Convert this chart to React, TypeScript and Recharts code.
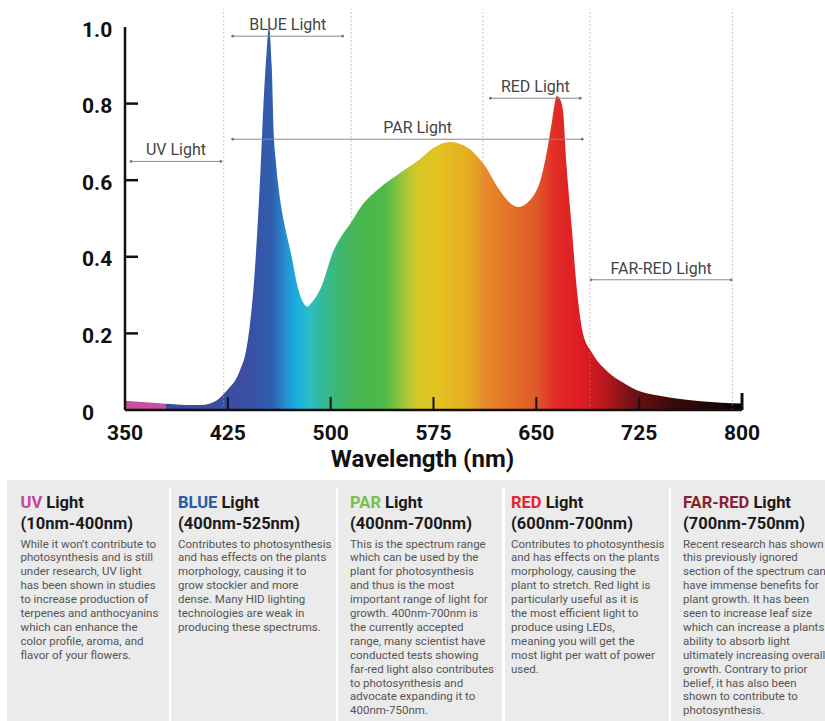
import React from 'react';
import { AreaChart, Area, XAxis, YAxis, ReferenceLine, ReferenceDot } from 'recharts';

// ---- spectrum data (wavelength nm -> relative intensity) ----
const wavelengths = [
  350, 365, 380, 395, 405, 412, 418, 422, 426, 430, 434, 438, 441, 444, 447, 449, 451, 453, 455,
  457, 458.5, 460, 462, 466, 471, 476, 480, 483, 486, 493, 502, 509, 515, 522, 536, 551, 565, 575,
  587, 600, 611, 624, 631, 637, 643, 648, 653, 658, 661.7, 665, 667.5, 669.5, 672, 675.5, 680, 684,
  690.5, 702, 714, 726, 740, 752, 770, 785, 800,
];
const intensity = [
  0.024, 0.02, 0.016, 0.013, 0.013, 0.017, 0.028, 0.042, 0.058, 0.075, 0.105, 0.15, 0.22, 0.33, 0.5,
  0.64, 0.8, 0.92, 1.0, 0.9, 0.72, 0.65, 0.58, 0.49, 0.41, 0.32, 0.28, 0.27, 0.28, 0.32, 0.415, 0.46,
  0.49, 0.53, 0.58, 0.62, 0.655, 0.685, 0.7, 0.685, 0.645, 0.57, 0.54, 0.53, 0.54, 0.56, 0.6, 0.68,
  0.76, 0.82, 0.81, 0.78, 0.64, 0.49, 0.3, 0.2, 0.15, 0.1, 0.07, 0.048, 0.037, 0.03, 0.023, 0.019,
  0.017,
];

const xTicks = [350, 425, 500, 575, 650, 725, 800];
const yTicks = [0, 0.2, 0.4, 0.6, 0.8, 1.0];

// dotted band dividers (nm)
const dividerWavelengths = [422, 515, 611, 689, 793];

// band annotations
const bandNames = ['UV Light', 'BLUE Light', 'PAR Light', 'RED Light', 'FAR-RED Light'];
const bandFrom = [354.4, 428.6, 428.6, 616.5, 690];
const bandTo = [419.9, 508.7, 683.5, 682, 792];
const bandLevel = [0.649, 0.976, 0.707, 0.814, 0.34];
const bandLabelAt = [387.2, 468.7, 563.4, 649.3, 741];

// spectrum colour map (nm, colour)
const stopWavelengths = [350, 379.9, 380, 440, 458, 468, 476, 484, 494, 505, 520, 540, 553, 563, 578, 600, 612, 630, 650, 664, 682, 700, 720, 750, 785, 796, 800];
const stopColors = ['#c6529f', '#c6529f', '#3d4b9e', '#3b4ea2', '#2f60b0', '#2394d3', '#19b0dc', '#2dbcc6', '#33b99c', '#3bb873', '#47b74f', '#50b848', '#9dc63c', '#d6c628', '#e4c321', '#e6ae21', '#e88c28', '#e37228', '#e0592a', '#e02c26', '#e01c24', '#b9181f', '#6f1214', '#3a0a0a', '#1a0404', '#000000', '#000000'];

const panelTitles = ['UV', 'BLUE', 'PAR', 'RED', 'FAR-RED'];
const panelTitleColors = ['#c4449b', '#2c5aa6', '#7cbf46', '#e0262c', '#8c1f31'];
const panelRanges = ['(10nm-400nm)', '(400nm-525nm)', '(400nm-700nm)', '(600nm-700nm)', '(700nm-750nm)'];
const panelLeft = [20.5, 178, 350, 511, 683];
const panelBodies = [
  [
    'While it won\u2019t contribute to',
    'photosynthesis and is still',
    'under research, UV light',
    'has been shown in studies',
    'to increase production of',
    'terpenes and anthocyanins',
    'which can enhance the',
    'color profile, aroma, and',
    'flavor of your flowers.',
  ],
  [
    'Contributes to photosynthesis',
    'and has effects on the plants',
    'morphology, causing it to',
    'grow stockier and more',
    'dense. Many HID lighting',
    'technologies are weak in',
    'producing these spectrums.',
  ],
  [
    'This is the spectrum range',
    'which can be used by the',
    'plant for photosynthesis',
    'and thus is the most',
    'important range of light for',
    'growth. 400nm-700nm is',
    'the currently accepted',
    'range, many scientist have',
    'conducted tests showing',
    'far-red light also contributes',
    'to photosynthesis and',
    'advocate expanding it to',
    '400nm-750nm.',
  ],
  [
    'Contributes to photosynthesis',
    'and has effects on the plants',
    'morphology, causing the',
    'plant to stretch. Red light is',
    'particularly useful as it is',
    'the most efficient light to',
    'produce using LEDs,',
    'meaning you will get the',
    'most light per watt of power',
    'used.',
  ],
  [
    'Recent research has shown',
    'this previously ignored',
    'section of the spectrum can',
    'have immense benefits for',
    'plant growth. It has been',
    'seen to increase leaf size',
    'which can increase a plants',
    'ability to absorb light',
    'ultimately increasing overall',
    'growth. Contrary to prior',
    'belief, it has also been',
    'shown to contribute to',
    'photosynthesis.',
  ],
];
const separatorX = [170, 337, 503.5, 670];

const data = wavelengths.map((wl, i) => ({ wl, v: intensity[i] }));

const FONT = 'Roboto, "Noto Sans", Arial, sans-serif';

const XTick = (props: any) => {
  const { x, y, payload } = props;
  const v = payload.value;
  return (
    <g>
      {v !== 350 && (
        <line x1={x} x2={x} y1={y} y2={y - (v === 800 ? 17 : 13)} stroke="#111" strokeWidth={v === 800 ? 3 : 2} />
      )}
      <text x={x} y={y + 30} textAnchor="middle" fontFamily={FONT} fontWeight={700} fontSize={21} fill="#111">
        {v}
      </text>
    </g>
  );
};

const YTick = (props: any) => {
  const { x, y, payload } = props;
  const v = payload.value;
  return (
    <g>
      {v > 0 && v < 1 && <line x1={x} x2={x + 13} y1={y} y2={y} stroke="#111" strokeWidth={2.5} />}
      <text x={x - 43} y={y + 9.5} textAnchor="start" fontFamily={FONT} fontWeight={700} fontSize={21} fill="#111">
        {v === 0 ? '0' : v.toFixed(1)}
      </text>
    </g>
  );
};

export default function App() {
  return (
    <div style={{ position: 'absolute', left: 0, top: 0, width: 825, height: 721, background: '#fff', fontFamily: FONT, overflow: 'hidden' }}>
      <AreaChart width={825} height={480} data={data} margin={{ top: 27, right: 83, bottom: 0, left: 0 }}>
        <defs>
          <linearGradient id="spectrumFill" x1="0" y1="0" x2="1" y2="0">
            {stopWavelengths.map((wl, i) => (
              <stop key={i} offset={(wl - 350) / 450} stopColor={stopColors[i]} />
            ))}
          </linearGradient>
        </defs>
        <XAxis
          dataKey="wl"
          type="number"
          domain={[350, 800]}
          ticks={xTicks}
          interval={0}
          height={70}
          tickSize={0}
          tickMargin={0}
          tickLine={false}
          tick={XTick}
          axisLine={{ stroke: '#111', strokeWidth: 2.5 }}
          label={{
            value: 'Wavelength (nm)',
            position: 'insideBottom',
            offset: 13,
            dx: -11,
            style: { fontFamily: FONT, fontWeight: 700, fontSize: 24, fill: '#111' },
          }}
        />
        <YAxis
          type="number"
          domain={[0, 1]}
          ticks={yTicks}
          interval={0}
          width={125}
          tickSize={0}
          tickMargin={0}
          tickLine={false}
          tick={YTick}
          axisLine={{ stroke: '#111', strokeWidth: 2.5 }}
        />
        <Area
          type="monotone"
          dataKey="v"
          stroke="none"
          fill="url(#spectrumFill)"
          fillOpacity={1}
          isAnimationActive={false}
          dot={false}
          activeDot={false}
        />
        {dividerWavelengths.map((wl) => (
          <ReferenceLine
            key={'d' + wl}
            segment={[{ x: wl, y: 0 }, { x: wl, y: 1.047 }]}
            stroke="#9a9a9a"
            strokeOpacity={0.55}
            strokeWidth={1}
            strokeDasharray="2 2"
            ifOverflow="visible"
          />
        ))}
        {bandNames.map((name, i) => (
          <ReferenceLine
            key={'b' + i}
            segment={[{ x: bandFrom[i], y: bandLevel[i] }, { x: bandTo[i], y: bandLevel[i] }]}
            stroke="#8a8a8a"
            strokeWidth={1}
            ifOverflow="visible"
          />
        ))}
        {bandNames.map((name, i) => (
          <ReferenceDot key={'s' + i} x={bandFrom[i]} y={bandLevel[i]} r={1.4} fill="#777" stroke="none" ifOverflow="visible" />
        ))}
        {bandNames.map((name, i) => (
          <ReferenceDot key={'e' + i} x={bandTo[i]} y={bandLevel[i]} r={1.4} fill="#777" stroke="none" ifOverflow="visible" />
        ))}
        {bandNames.map((name, i) => (
          <ReferenceDot
            key={'l' + i}
            x={bandLabelAt[i]}
            y={bandLevel[i]}
            r={0}
            fill="none"
            stroke="none"
            ifOverflow="visible"
            label={{
              value: name,
              position: 'top',
              offset: 6,
              style: { fontFamily: FONT, fontSize: 16, fill: '#454545', fontWeight: 400 },
            }}
          />
        ))}
      </AreaChart>

      <div style={{ position: 'absolute', left: 7, top: 480, width: 818, height: 241, background: '#ebebeb' }} />
      {separatorX.map((sx) => (
        <div key={sx} style={{ position: 'absolute', left: sx - 1.25, top: 488, width: 2.5, height: 233, background: '#ffffff' }} />
      ))}
      {panelTitles.map((t, i) => (
        <div key={t} style={{ position: 'absolute', left: panelLeft[i], top: 491.5, whiteSpace: 'nowrap' }}>
          <div style={{ fontSize: 16.5, fontWeight: 700, lineHeight: '21px', color: '#1a1a1a' }}>
            <span style={{ color: panelTitleColors[i] }}>{t}</span> Light
          </div>
          <div style={{ fontSize: 16.5, fontWeight: 700, lineHeight: '21px', color: '#1a1a1a' }}>{panelRanges[i]}</div>
          <div style={{ marginTop: 4, fontSize: 11.5, lineHeight: '13.9px', color: '#555' }}>
            {panelBodies[i].map((ln, k) => (
              <div key={k}>{ln}</div>
            ))}
          </div>
        </div>
      ))}
    </div>
  );
}
